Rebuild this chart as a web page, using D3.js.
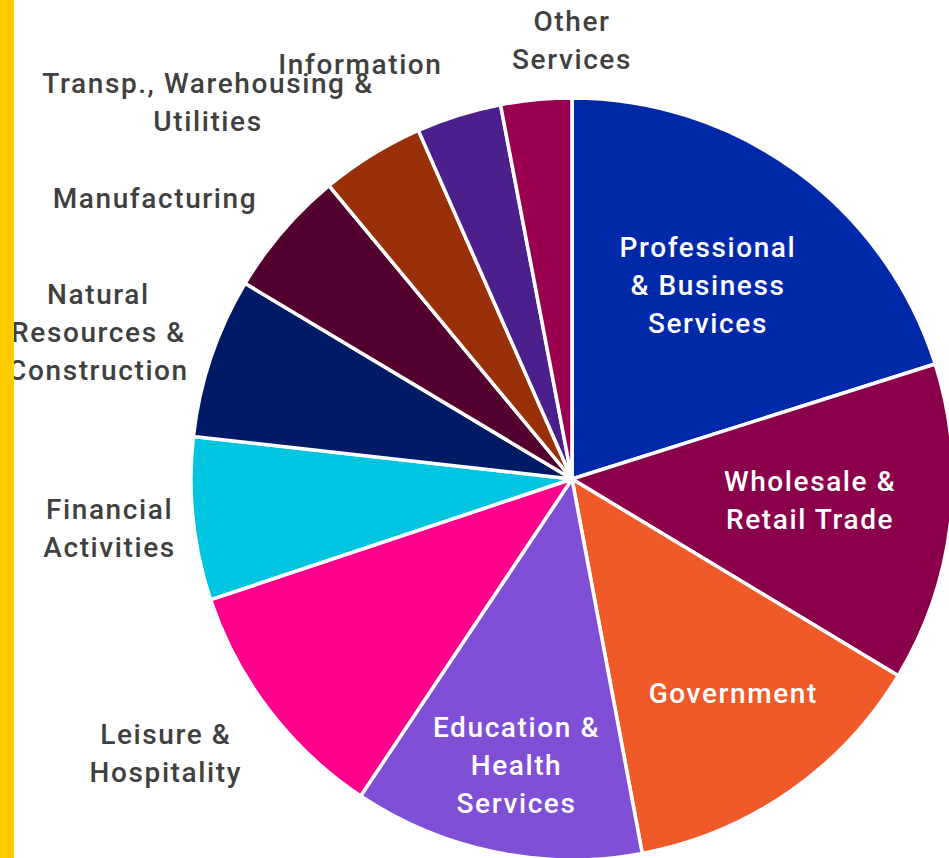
<!DOCTYPE html>
<html>
<head>
<meta charset="utf-8">
<script src="https://cdn.jsdelivr.net/npm/d3@7"></script>
<style>
  html, body { margin: 0; padding: 0; background: #fff; }
  svg { display: block; }
  text { font-family: Roboto, "Noto Sans", sans-serif; font-weight: 500; letter-spacing: 1.6px; }
</style>
</head>
<body>
<svg id="chart"></svg>
<script>
// employment share by sector (%), clockwise from 12 o'clock
const sectors = [
  'Professional & Business Services', 'Wholesale & Retail Trade', 'Government',
  'Education & Health Services', 'Leisure & Hospitality', 'Financial Activities',
  'Natural Resources & Construction', 'Manufacturing',
  'Transp., Warehousing & Utilities', 'Information', 'Other Services'
];
const shares = [20.1, 13.5, 13.4, 12.3, 10.5, 6.9, 6.8, 5.4, 4.4, 3.6, 3.0];
const sectorColors = [
  '#0029a9', '#8b004b', '#f05a28', '#7f4fd5', '#ff008c', '#00c5e0',
  '#001a66', '#54002e', '#9a300a', '#4b1f8c', '#990050'
];
// label lines as shown on the chart
const labelLines = [
  ['Professional', '& Business', 'Services'],
  ['Wholesale &', 'Retail Trade'],
  ['Government'],
  ['Education &', 'Health', 'Services'],
  ['Leisure &', 'Hospitality'],
  ['Financial', 'Activities'],
  ['Natural', 'Resources &', 'Construction'],
  ['Manufacturing'],
  ['Transp., Warehousing &', 'Utilities'],
  ['Information'],
  ['Other', 'Services']
];

const width = 949;
const height = 858;
const cx = 572, cy = 479, radius = 381;
const lineH = 38;

// label anchor: [distance from center, angle in degrees clockwise from north]
const labelAt = [
  [237, 35], [239, 95], [268, 143], [291, 191], [490, 236], [465, 264],
  [496, 287.3], [503, 304], [524, 316], [466, 333], [439, 0]
];

const svg = d3.select('#chart')
  .attr('width', width)
  .attr('height', height);

const data = sectors.map((s, i) => ({ name: s, value: shares[i], color: sectorColors[i], lines: labelLines[i] }));

const pie = d3.pie().sort(null).value(d => d.value);
const arc = d3.arc().innerRadius(0).outerRadius(radius);

const g = svg.append('g').attr('transform', `translate(${cx},${cy})`);

g.selectAll('path')
  .data(pie(data))
  .enter()
  .append('path')
  .attr('d', arc)
  .attr('fill', d => d.data.color)
  .attr('stroke', '#fff')
  .attr('stroke-width', 3.5)
  .attr('stroke-linejoin', 'round');

const labels = g.selectAll('text.lbl')
  .data(data)
  .enter()
  .append('text')
  .attr('class', 'lbl')
  .attr('text-anchor', 'middle')
  .attr('font-size', 28)
  .attr('fill', (d, i) => labelAt[i][0] < radius ? '#ffffff' : '#404040')
  .attr('transform', (d, i) => {
    const a = labelAt[i][1] * Math.PI / 180;
    const r = labelAt[i][0];
    return `translate(${r * Math.sin(a)},${-r * Math.cos(a)})`;
  });

labels.selectAll('tspan')
  .data(d => d.lines.map((l, j) => ({ l, j, n: d.lines.length })))
  .enter()
  .append('tspan')
  .attr('x', 0)
  .attr('y', o => (o.j - (o.n - 1) / 2) * lineH)
  .attr('dy', '0.36em')
  .text(o => o.l);

// yellow edge bar sits on top of the labels
svg.append('rect')
  .attr('x', 0).attr('y', 0)
  .attr('width', 14).attr('height', height)
  .attr('fill', '#ffcc00');
</script>
</body>
</html>
